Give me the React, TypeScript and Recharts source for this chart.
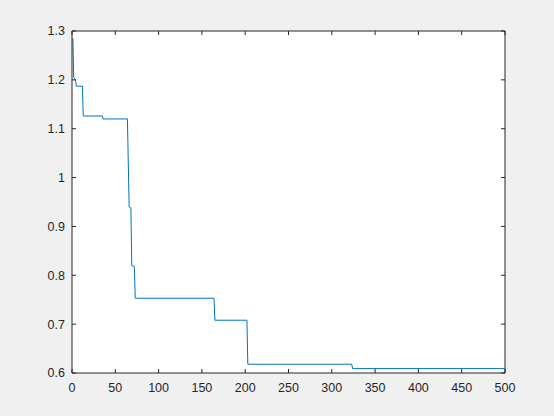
import React from "react";
import { LineChart, Line, XAxis, YAxis, CartesianGrid, ReferenceLine } from "recharts";

const STEP_X = [1, 2, 4, 5, 12, 13, 35, 36, 64, 66, 68, 69, 72, 73, 164, 165, 202, 203, 323, 324, 500];
const STEP_Y = [1.285, 1.205, 1.2, 1.187, 1.187, 1.126, 1.126, 1.12, 1.12, 0.94, 0.938, 0.82, 0.818, 0.753, 0.753, 0.708, 0.708, 0.618, 0.618, 0.609, 0.609];
const X_TICKS = [0, 50, 100, 150, 200, 250, 300, 350, 400, 450, 500];
const Y_TICKS = [0.6, 0.7, 0.8, 0.9, 1.0, 1.1, 1.2, 1.3];

const data = STEP_X.map((x, i) => ({ x, y: STEP_Y[i] }));

const W = 554;
const H = 416;
const LEFT = 72;
const TOP = 31;
const RIGHT = 49;
const BOTTOM = 43;
const PW = W - LEFT - RIGHT;
const PH = H - TOP - BOTTOM;
const AX = "#262626";
const FONT = "'Liberation Sans', Arial, Helvetica, sans-serif";
const FS = 12.5;
const YM = 7;
const XM = 10;
const TL = 4;

const fmtY = (v: number) => String(Math.round(v * 10) / 10);

const YTick = (props: any) => {
  const { x, y, payload } = props;
  const ax = x + YM;
  return (
    <g>
      <text x={x} y={y} dy="0.355em" textAnchor="end" fontSize={FS} fill={AX} fontFamily={FONT}>
        {fmtY(payload.value)}
      </text>
      <line x1={ax} x2={ax + TL} y1={y} y2={y} stroke={AX} strokeWidth={1} />
      <line x1={ax + PW} x2={ax + PW - TL} y1={y} y2={y} stroke={AX} strokeWidth={1} />
    </g>
  );
};

const XTick = (props: any) => {
  const { x, y, payload } = props;
  const ay = y - XM;
  return (
    <g>
      <text x={x} y={y} dy="0.71em" textAnchor="middle" fontSize={FS} fill={AX} fontFamily={FONT}>
        {String(payload.value)}
      </text>
      <line x1={x} x2={x} y1={ay} y2={ay - TL} stroke={AX} strokeWidth={1} />
      <line x1={x} x2={x} y1={ay - PH} y2={ay - PH + TL} stroke={AX} strokeWidth={1} />
    </g>
  );
};

export default function App() {
  return (
    <div style={{ position: "absolute", left: 0, top: 0, width: W, height: H, background: "#f0f0f0" }}>
      <LineChart width={W} height={H} data={data} margin={{ top: TOP, right: RIGHT, bottom: 0, left: 0 }}>
        <CartesianGrid fill="#ffffff" stroke="none" horizontal={false} vertical={false} />
        <XAxis
          dataKey="x"
          type="number"
          domain={[0, 500]}
          ticks={X_TICKS}
          height={BOTTOM}
          tickSize={0}
          tickMargin={XM}
          tickLine={false}
          axisLine={{ stroke: AX }}
          tick={<XTick />}
          interval={0}
          allowDataOverflow
        />
        <YAxis
          type="number"
          domain={[0.6, 1.3]}
          ticks={Y_TICKS}
          width={LEFT}
          tickSize={0}
          tickMargin={YM}
          tickLine={false}
          axisLine={{ stroke: AX }}
          tick={<YTick />}
          interval={0}
          allowDataOverflow
        />
        <ReferenceLine y={1.3} stroke={AX} strokeWidth={1} />
        <ReferenceLine x={500} stroke={AX} strokeWidth={1} />
        <Line
          dataKey="y"
          type="linear"
          stroke="#0072BD"
          strokeWidth={1}
          dot={false}
          isAnimationActive={false}
        />
      </LineChart>
    </div>
  );
}
